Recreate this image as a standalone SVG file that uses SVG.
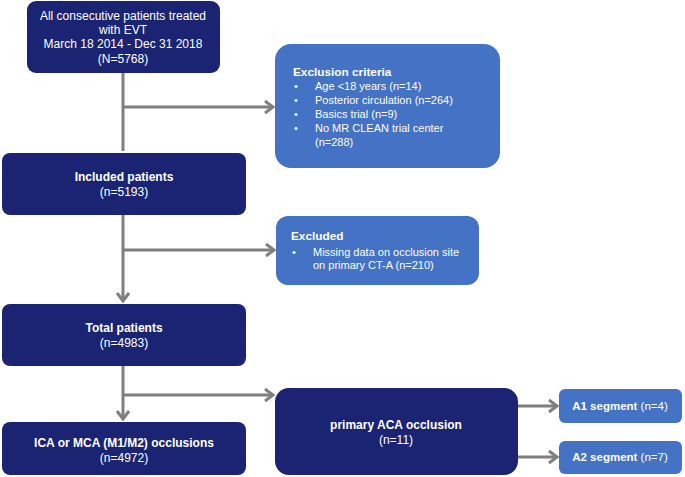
<svg xmlns="http://www.w3.org/2000/svg" width="685" height="477" viewBox="0 0 685 477">
<defs>
<style>
.dark{fill:#1b2472;}
.light{fill:#4472c4;}
text{font-family:"Liberation Sans",Arial,sans-serif;font-size:11px;fill:#fff;}
.d text{font-size:12px;}
.s text{font-size:11.5px;}
text.t{font-size:11.8px;font-weight:bold;}
.c{text-anchor:middle;}
.b{font-weight:bold;}
.ln{stroke:#7f7f7f;stroke-width:3;fill:none;}
</style>
<marker id="ah" markerWidth="10" markerHeight="10" refX="8" refY="5" orient="auto" markerUnits="userSpaceOnUse" overflow="visible">
<polyline points="0,-1 8,5 0,11" fill="none" stroke="#7f7f7f" stroke-width="3"/>
</marker>
</defs>
<rect width="685" height="477" fill="#fff"/>
<g id="connectors">
<line class="ln" x1="123" y1="73" x2="123" y2="151"/>
<line class="ln" x1="123" y1="107" x2="273" y2="107" marker-end="url(#ah)"/>
<line class="ln" x1="123" y1="215" x2="123" y2="301" marker-end="url(#ah)"/>
<line class="ln" x1="123" y1="250" x2="274" y2="250" marker-end="url(#ah)"/>
<line class="ln" x1="123" y1="366" x2="123" y2="419" marker-end="url(#ah)"/>
<line class="ln" x1="123" y1="395" x2="273" y2="395" marker-end="url(#ah)"/>
<line class="ln" x1="518" y1="406" x2="557" y2="406" marker-end="url(#ah)"/>
<line class="ln" x1="518" y1="457" x2="557" y2="457" marker-end="url(#ah)"/>
</g>
<g id="n1" class="d">
<rect class="dark" x="27" y="1" width="193" height="72" rx="9"/>
<text class="c" x="123" y="20">All consecutive patients treated</text>
<text class="c" x="123" y="34">with EVT</text>
<text class="c" x="123" y="48">March 18 2014 - Dec 31 2018</text>
<text class="c" x="123" y="63">(N=5768)</text>
</g>
<g id="exclusion">
<rect class="light" x="275" y="44" width="225" height="124" rx="16"/>
<text class="t" x="293" y="76">Exclusion criteria</text>
<text x="294" y="90">•</text><text x="315" y="90">Age &lt;18 years (n=14)</text>
<text x="294" y="104">•</text><text x="315" y="104">Posterior circulation (n=264)</text>
<text x="294" y="118">•</text><text x="315" y="118">Basics trial (n=9)</text>
<text x="294" y="132">•</text><text x="315" y="132">No MR CLEAN trial center</text>
<text x="315" y="146">(n=288)</text>
</g>
<g id="included" class="d">
<rect class="dark" x="2" y="153" width="244" height="62" rx="8"/>
<text class="c b" x="124" y="181">Included patients</text>
<text class="c" x="124" y="196">(n=5193)</text>
</g>
<g id="excluded">
<rect class="light" x="276" y="216" width="203" height="69" rx="12"/>
<text class="t" x="291" y="240">Excluded</text>
<text x="292" y="256">•</text><text x="313" y="256">Missing data on occlusion site</text>
<text x="313" y="269">on primary CT-A (n=210)</text>
</g>
<g id="total" class="d">
<rect class="dark" x="2" y="304" width="244" height="62" rx="8"/>
<text class="c b" x="124" y="332">Total patients</text>
<text class="c" x="124" y="347">(n=4983)</text>
</g>
<g id="ica" class="d">
<rect class="dark" x="2" y="422" width="244" height="53" rx="8"/>
<text class="c b" x="124" y="447">ICA or MCA (M1/M2) occlusions</text>
<text class="c" x="124" y="462">(n=4972)</text>
</g>
<g id="aca" class="d">
<rect class="dark" x="275" y="388" width="243" height="87" rx="14"/>
<text class="c b" x="396" y="429">primary ACA occlusion</text>
<text class="c" x="396" y="444">(n=11)</text>
</g>
<g id="a1" class="s">
<rect class="light" x="559" y="389" width="123" height="34" rx="6"/>
<text class="c" x="620" y="410"><tspan class="b">A1 segment</tspan> (n=4)</text>
</g>
<g id="a2" class="s">
<rect class="light" x="559" y="441" width="123" height="33" rx="6"/>
<text class="c" x="620" y="461"><tspan class="b">A2 segment</tspan> (n=7)</text>
</g>
</svg>
